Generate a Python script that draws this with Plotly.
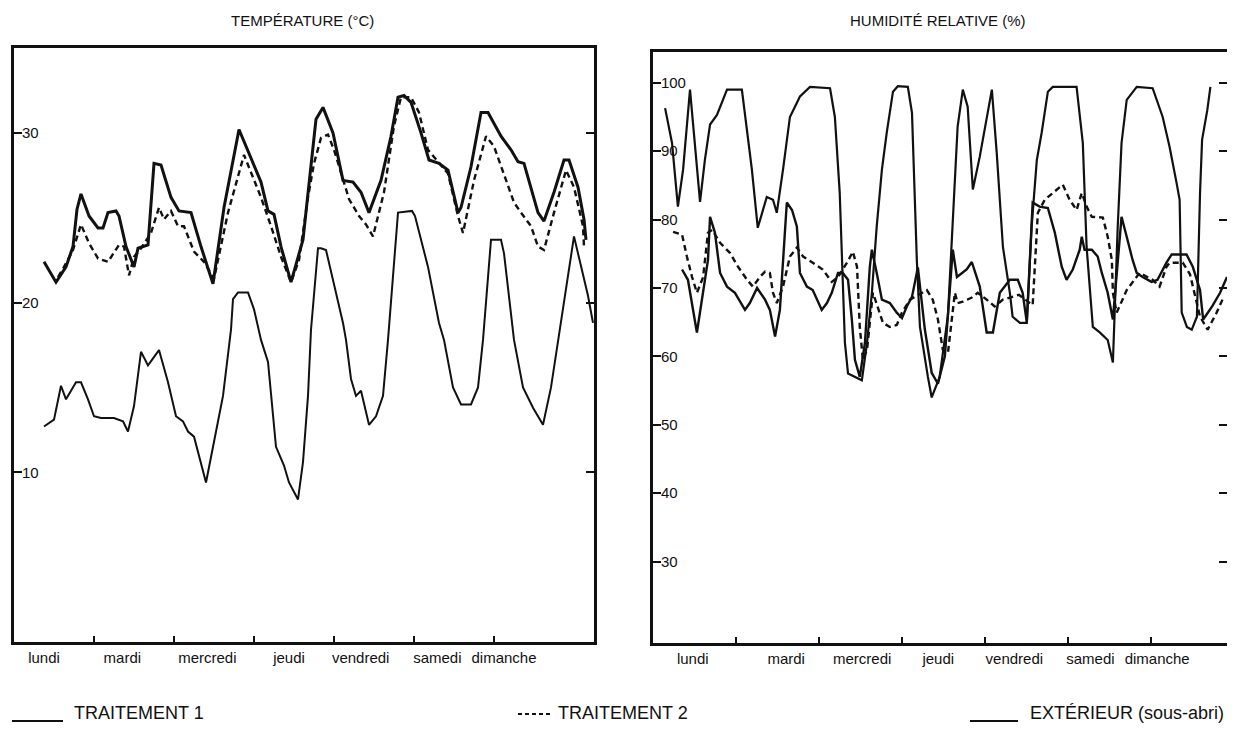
import plotly.graph_objects as go

# ---------------- TEMPÉRATURE (°C) : hours since Monday 00:00 ----------------
temp_t1_h = [9.0, 12.6, 15.6, 17.7, 18.9, 20.1, 22.5, 25.2, 26.7, 28.2, 30.6, 31.5, 33.6, 36.0,
             37.2, 40.2, 42.0, 44.1, 47.1, 49.5, 53.1, 56.1, 59.7, 63.0, 67.5, 71.7, 74.1, 76.2,
             78.0, 80.1, 83.1, 86.7, 88.2, 90.6, 92.7, 95.7, 98.7, 101.7, 104.1, 106.5, 110.1,
             113.1, 115.2, 117.0, 119.1, 122.1, 124.5, 127.5, 130.2, 133.2, 134.1, 137.1, 140.1,
             142.2, 146.1, 149.1, 151.2, 153.0, 157.2, 159.0, 162.0, 165.0, 166.5, 169.2, 171.0, 171.6]
temp_t1 = [22.4, 21.2, 22.1, 23.3, 25.5, 26.4, 25.1, 24.4, 24.4, 25.3, 25.4, 25.1, 23.3, 22.1,
           23.2, 23.4, 28.2, 28.1, 26.2, 25.4, 25.3, 23.3, 21.1, 25.6, 30.2, 28.2, 27.1, 25.4,
           25.2, 23.3, 21.2, 23.7, 26.5, 30.8, 31.5, 30.0, 27.2, 27.1, 26.5, 25.3, 27.2,
           29.8, 32.1, 32.2, 31.8, 30.0, 28.4, 28.2, 27.8, 25.3, 25.6, 28.0, 31.2,
           31.2, 29.8, 29.0, 28.3, 28.2, 25.3, 24.8, 26.5, 28.4, 28.4, 26.8, 24.9, 23.7]

temp_t2_h = [13.2, 15.0, 17.7, 20.1, 22.5, 25.2, 28.2, 31.5, 33.0, 34.5, 36.0, 38.1, 41.1, 43.5,
             45.0, 47.1, 49.2, 51.0, 54.0, 57.0, 60.0, 64.2, 69.0, 72.0, 74.1, 77.1, 80.1, 83.1,
             85.5, 88.2, 90.0, 92.1, 94.2, 96.0, 98.1, 100.5, 103.5, 105.6, 107.7, 111.0, 114.0,
             116.1, 119.1, 121.5, 124.2, 127.2, 130.2, 133.2, 134.7, 138.0, 141.6, 144.0, 147.0,
             150.0, 152.1, 155.1, 157.2, 159.0, 162.0, 165.6, 168.0, 170.7, 171.0]
temp_t2 = [21.5, 22.1, 23.1, 24.6, 23.5, 22.6, 22.4, 23.4, 23.3, 21.6, 22.7, 23.2, 24.1, 25.6,
           24.9, 25.4, 24.5, 24.5, 23.0, 22.4, 21.4, 25.3, 28.7, 27.2, 26.2, 24.5, 22.7, 21.2,
           22.5, 26.2, 28.2, 29.7, 29.9, 29.0, 27.6, 26.1, 25.1, 24.6, 23.9, 26.5, 30.4,
           32.1, 32.1, 31.2, 29.0, 28.3, 27.6, 25.1, 24.1, 27.2, 29.8, 29.2, 27.6,
           25.9, 25.3, 24.5, 23.3, 23.1, 25.3, 27.8, 26.8, 24.5, 23.3]

temp_ext_h = [9.0, 12.0, 14.1, 15.6, 18.6, 20.1, 22.2, 24.0, 26.1, 30.0, 32.7, 34.2, 36.0, 38.1,
              40.2, 43.5, 46.2, 48.6, 50.7, 52.2, 54.0, 55.5, 57.6, 60.0, 62.7, 65.1, 65.7, 67.2,
              70.2, 72.0, 74.1, 76.2, 78.6, 81.0, 82.5, 85.2, 86.7, 88.2, 89.1, 91.2, 92.1, 93.6,
              96.6, 98.7, 99.6, 101.1, 102.6, 104.1, 106.5, 108.6, 110.7, 112.2, 115.2, 119.4,
              120.3, 124.2, 127.5, 129.0, 131.7, 134.1, 137.1, 139.2, 140.7, 143.1, 146.1, 147.0,
              150.0, 152.7, 155.7, 158.7, 161.1, 163.2, 168.0, 172.2, 173.7]
temp_ext = [12.7, 13.1, 15.1, 14.3, 15.3, 15.3, 14.3, 13.3, 13.2, 13.2, 13.0, 12.4, 13.9, 17.1,
            16.3, 17.2, 15.3, 13.3, 13.0, 12.4, 12.1, 10.9, 9.4, 11.8, 14.5, 18.4, 20.2, 20.6,
            20.6, 19.6, 17.8, 16.5, 11.5, 10.4, 9.4, 8.4, 10.6, 14.5, 18.4, 23.2, 23.2, 23.1,
            20.6, 18.8, 17.8, 15.5, 14.5, 14.8, 12.8, 13.3, 14.5, 17.8, 25.3, 25.4,
            25.1, 22.1, 18.8, 17.8, 15.0, 14.0, 14.0, 15.0, 17.8, 23.7, 23.7, 22.9,
            17.8, 15.0, 13.8, 12.8, 15.0, 17.8, 23.9, 20.4, 18.8]

# ---------------- HUMIDITÉ RELATIVE (%) : hours since Monday 00:00 ----------------
hum_t1_h = [8.4, 10.1, 12.7, 14.5, 15.9, 16.5, 17.9, 19.4, 21.4, 23.7, 26.6, 28.0, 30.1, 32.4,
            33.8, 35.3, 36.7, 38.7, 40.2, 41.6, 42.5, 44.5, 46.2, 48.8, 50.3, 51.7, 53.5, 54.9,
            56.4, 57.5, 58.4, 59.8, 61.3, 62.7, 63.3, 64.7, 66.2, 68.5, 70.5, 72.0, 73.4, 74.9,
            76.6, 78.6, 80.6, 82.4, 84.4, 86.7, 87.9, 90.7, 92.2, 94.5, 96.5, 98.3, 100.3,
            103.2, 105.5, 106.9, 108.1, 109.8, 111.8, 114.2, 116.2, 118.2, 119.6, 121.4, 123.4,
            124.0, 124.8, 126.9, 128.6, 129.8, 131.5, 133.0, 135.5, 137.0, 138.7, 139.9, 141.6,
            144.2, 145.9, 148.5, 150.0, 154.3, 156.1, 158.2, 159.1, 161.7, 164.0, 166.0]
hum_t1 = [72.7, 71.2, 63.5, 69.3, 74.1, 80.4, 78.1, 72.2, 70.2, 69.3, 66.8, 67.8, 70.0, 68.3,
          66.8, 62.9, 66.8, 82.5, 81.4, 79.0, 72.2, 70.2, 69.7, 66.8, 67.8, 69.3, 72.2, 72.2,
          71.2, 65.4, 59.5, 57.0, 62.0, 73.1, 75.6, 72.2, 68.3, 67.8, 66.4, 65.6, 67.3, 68.7,
          73.0, 64.0, 57.6, 56.0, 60.0, 75.6, 71.6, 72.7, 73.8, 70.2, 63.5, 63.5, 69.3,
          71.2, 71.2, 69.3, 65.0, 82.5, 81.9, 81.7, 78.1, 73.1, 71.2, 72.7, 75.6,
          77.5, 75.6, 75.6, 74.6, 72.2, 69.3, 65.4, 80.4, 77.5, 74.1, 72.2, 71.6,
          70.9, 71.2, 73.7, 74.9, 74.9, 73.1, 69.7, 65.4, 67.3, 69.3, 71.6]

hum_t2_h = [5.8, 8.4, 9.8, 11.3, 12.7, 14.5, 15.9, 17.1, 19.4, 22.3, 24.6, 27.2, 28.9, 30.9,
            32.4, 33.8, 34.7, 35.8, 37.6, 39.6, 41.6, 43.4, 46.2, 49.1, 51.7, 53.5, 56.1, 57.8,
            59.0, 59.8, 60.7, 61.9, 63.6, 66.5, 68.5, 70.5, 72.0, 74.3, 79.2, 80.9, 82.4, 83.8,
            85.3, 87.3, 88.1, 89.6, 92.2, 93.9, 96.5, 98.8, 101.2, 105.8, 109.8, 111.3, 113.3,
            115.6, 118.5, 120.5, 122.5, 124.0, 125.4, 126.9, 130.1, 131.5, 132.7, 133.0, 134.1,
            137.0, 140.7, 144.5, 146.5, 148.5, 149.4, 153.2, 155.3, 158.2, 160.4, 163.0, 164.7]
hum_t2 = [78.2, 77.8, 74.6, 71.6, 69.3, 71.6, 78.1, 78.5, 76.6, 75.1, 73.1, 71.2, 70.2, 71.6,
          72.4, 72.2, 69.3, 67.8, 70.2, 74.6, 75.9, 74.6, 73.7, 72.7, 70.9, 71.6, 73.7, 75.3,
          73.1, 64.3, 59.5, 61.0, 69.3, 64.9, 64.3, 64.6, 66.4, 68.3, 69.7, 68.3, 65.4, 61.0,
          60.5, 69.3, 67.8, 68.0, 68.6, 69.3, 68.3, 67.3, 68.3, 69.0, 67.5, 81.0, 82.9,
          83.9, 85.1, 82.9, 81.4, 83.9, 81.9, 80.4, 80.3, 77.5, 74.1, 69.3, 66.4,
          69.7, 72.2, 71.2, 70.2, 73.1, 73.7, 73.7, 72.0, 65.8, 63.9, 66.4, 68.3]

hum_ext_h = [3.5, 5.5, 7.2, 8.7, 10.7, 12.1, 13.6, 15.0, 16.5, 18.5, 21.4, 25.7, 27.2, 28.6,
             30.3, 32.9, 34.7, 35.8, 37.6, 39.6, 42.5, 45.4, 51.2, 52.6, 54.0, 54.9, 55.5, 56.4,
             58.4, 60.4, 61.9, 63.3, 64.7, 66.2, 67.6, 69.4, 70.8, 73.7, 74.9, 75.7, 76.3, 77.2,
             78.6, 79.5, 80.6, 82.9, 85.3, 86.7, 88.1, 89.6, 91.0, 92.5, 94.5, 98.0, 99.4,
             101.2, 103.2, 104.0, 106.1, 108.1, 109.5, 111.0, 112.4, 114.2, 115.6, 122.5, 124.3,
             125.4, 127.2, 129.2, 131.5, 133.0, 134.4, 135.5, 137.0, 139.9, 144.5, 147.4, 149.4,
             151.4, 152.3, 152.9, 154.4, 155.8, 157.3, 158.2, 158.8, 160.3, 161.2]
hum_ext = [96.3, 91.2, 81.9, 87.3, 99.0, 91.2, 82.6, 88.7, 93.9, 95.3, 99.0, 99.0, 92.8, 87.3,
           78.8, 83.3, 82.9, 81.0, 87.3, 95.0, 98.0, 99.4, 99.2, 95.0, 83.9, 69.3, 62.0, 57.5,
           57.0, 56.5, 62.0, 69.3, 79.0, 87.3, 92.7, 98.7, 99.5, 99.4, 95.6, 83.9, 74.1, 64.3,
           59.5, 57.0, 54.0, 57.0, 66.0, 80.0, 93.6, 99.0, 96.5, 84.4, 89.2, 99.0, 89.8,
           76.0, 69.3, 65.8, 64.9, 64.9, 79.0, 88.7, 92.7, 98.7, 99.4, 99.4, 91.2,
           76.0, 64.3, 63.5, 62.4, 59.1, 79.0, 91.2, 97.5, 99.4, 99.2, 95.0, 90.6,
           85.4, 82.9, 66.4, 64.3, 63.9, 65.8, 83.9, 91.7, 96.0, 99.4]

# ---------------- axis labels ----------------
days = ["lundi", "mardi", "mercredi", "jeudi", "vendredi", "samedi", "dimanche"]
temp_day_pos = [9, 32.5, 58, 82.5, 104, 127, 147]
hum_day_pos = [11.5, 38.5, 60.5, 82.5, 104.5, 126.5, 145.8]
day_bounds = [24, 48, 72, 96, 120, 144]
temp_ticks = [10, 20, 30]
hum_ticks = [30, 40, 50, 60, 70, 80, 90, 100]

FONT = "Liberation Sans, Arial, Helvetica, sans-serif"
BLACK = "#111111"

fig = go.Figure()

def add(x, y, xa, ya, width, dash="solid"):
    fig.add_trace(go.Scatter(x=x, y=y, mode="lines", xaxis=xa, yaxis=ya, showlegend=False,
                             line=dict(color=BLACK, width=width, dash=dash),
                             hoverinfo="x+y"))

add(temp_ext_h, temp_ext, "x", "y", 2.0)
add(temp_t2_h, temp_t2, "x", "y", 2.4, "6px,4px")
add(temp_t1_h, temp_t1, "x", "y", 3.0)
add(hum_ext_h, hum_ext, "x2", "y2", 2.2)
add(hum_t2_h, hum_t2, "x2", "y2", 2.4, "6px,4px")
add(hum_t1_h, hum_t1, "x2", "y2", 2.4)

# page body has an 8px margin: figure is offset by it, so work in page pixels
OFF = 8
W, H = 1235 - OFF, 731 - OFF
def px(v): return (v - OFF) / W
def py(v): return 1 - (v - OFF) / H

xcommon = dict(showgrid=False, zeroline=False, showline=True, linecolor=BLACK, linewidth=2.8,
               mirror=True, ticks="", tickmode="array", ticktext=days, tickangle=0,
               tickfont=dict(family=FONT, size=15, color=BLACK),
               minor=dict(tickmode="array", tickvals=day_bounds, ticks="inside",
                          ticklen=6, tickwidth=1.5, tickcolor=BLACK, showgrid=False))
ycommon = dict(showgrid=False, zeroline=False, showline=True, linecolor=BLACK, linewidth=2.8,
               mirror="ticks", ticks="inside", ticklen=8, tickwidth=2, tickcolor=BLACK,
               ticklabelposition="inside", tickmode="array",
               tickfont=dict(family=FONT, size=15, color=BLACK))

fig.update_layout(
    width=W, height=H, margin=dict(l=0, r=0, t=0, b=0),
    paper_bgcolor="white", plot_bgcolor="white",
    font=dict(family=FONT, color=BLACK),
    xaxis=dict(domain=[px(14), px(594)], range=[0, 174], tickvals=temp_day_pos, anchor="y",
               **xcommon),
    yaxis=dict(domain=[py(642), py(48)], range=[0, 35], tickvals=temp_ticks, anchor="x",
               **ycommon),
    xaxis2=dict(domain=[px(653), px(1227)], range=[0, 166], tickvals=hum_day_pos, anchor="y2",
                **xcommon),
    yaxis2=dict(domain=[py(643), py(52)], range=[18.1, 104.5], tickvals=hum_ticks, anchor="x2",
                **ycommon),
)

ann = [
    dict(text="TEMPÉRATURE (°C)", x=px(302), y=py(20)),
    dict(text="HUMIDITÉ RELATIVE (%)", x=px(938), y=py(20)),
]
for a in ann:
    fig.add_annotation(text=a["text"], x=a["x"], y=a["y"], xref="paper", yref="paper",
                       showarrow=False, xanchor="center", yanchor="middle",
                       font=dict(family=FONT, size=15, color=BLACK))

legend_items = [
    ("TRAITEMENT 1", 12, 63, 72, "solid"),
    ("TRAITEMENT 2", 518, 551, 556, "4px,3px"),
    ("EXTÉRIEUR (sous-abri)", 970, 1018, 1028, "solid"),
]
for text, x0, x1, xt, dash in legend_items:
    ly = py(721) if dash == "solid" else py(714)
    fig.add_shape(type="line", xref="paper", yref="paper", x0=px(x0), x1=px(x1), y0=ly, y1=ly,
                  line=dict(color=BLACK, width=1.8, dash=dash))
    fig.add_annotation(text=text, x=px(xt), y=py(713), xref="paper", yref="paper",
                       showarrow=False, xanchor="left", yanchor="middle",
                       font=dict(family=FONT, size=18, color=BLACK))

fig.write_html("out.html")
